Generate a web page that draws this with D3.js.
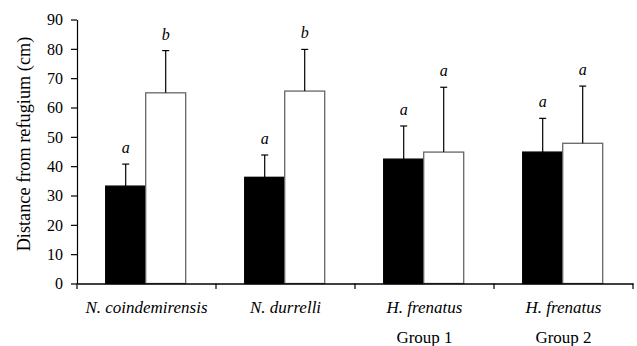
<!DOCTYPE html>
<html><head><meta charset="utf-8">
<script src="https://cdn.jsdelivr.net/npm/d3@7"></script>
<style>body{margin:0;background:#fff}svg{display:block}text{font-family:"Liberation Serif","Times New Roman",serif;fill:#000}</style>
</head><body>
<script>
const categories = ["N. coindemirensis", "N. durrelli", "H. frenatus", "H. frenatus"];
const subLabels = ["", "", "Group 1", "Group 2"];
const series = ["black", "white"];
const blackMeans = [33.2, 36.2, 42.4, 44.8];
const blackErr = [40.7, 43.8, 53.7, 56.3];
const whiteMeans = [65.0, 65.6, 44.8, 47.8];
const whiteErr = [79.4, 79.8, 66.9, 67.3];
const blackLetters = ["a", "a", "a", "a"];
const whiteLetters = ["b", "b", "a", "a"];
const yTicks = [0, 10, 20, 30, 40, 50, 60, 70, 80, 90];
const yTitle = "Distance from refugium (cm)";

const W = 637, H = 346;
const svg = d3.select("body").append("svg").attr("width", W).attr("height", H);
const keys = categories.map((c, i) => i);
const x0 = d3.scaleBand().domain(keys).range([77, 633]).padding(0);
const y = d3.scaleLinear().domain([0, 90]).range([283.5, 19.5]);
const bw = x0.bandwidth();
const x1 = d3.scaleBand().domain(series).range([bw / 2 - 40.8, bw / 2 + 39.2]).padding(0);

const data = [];
keys.forEach(i => {
  data.push({i, s: "black", v: blackMeans[i], e: blackErr[i], l: blackLetters[i]});
  data.push({i, s: "white", v: whiteMeans[i], e: whiteErr[i], l: whiteLetters[i]});
});

const g = svg.append("g");
// bars
g.selectAll("rect.bar").data(data).enter().append("rect")
  .attr("x", d => x0(d.i) + x1(d.s))
  .attr("y", d => y(d.v))
  .attr("width", x1.bandwidth())
  .attr("height", d => y(0) - y(d.v))
  .attr("fill", d => d.s === "black" ? "#000" : "#fff")
  .attr("stroke", d => d.s === "black" ? "#000" : "#666")
  .attr("stroke-width", 1.3);
// error bars
const cx = d => x0(d.i) + x1(d.s) + x1.bandwidth() / 2;
g.selectAll("line.err").data(data).enter().append("line")
  .attr("x1", cx).attr("x2", cx)
  .attr("y1", d => y(d.v)).attr("y2", d => y(d.e))
  .attr("stroke", "#000").attr("stroke-width", 1.2);
g.selectAll("line.cap").data(data).enter().append("line")
  .attr("x1", d => cx(d) - 3.5).attr("x2", d => cx(d) + 3.5)
  .attr("y1", d => y(d.e)).attr("y2", d => y(d.e))
  .attr("stroke", "#000").attr("stroke-width", 1.2);
// letters
g.selectAll("text.let").data(data).enter().append("text")
  .attr("x", cx).attr("y", d => y(d.e) - 11)
  .attr("text-anchor", "middle")
  .style("font-size", "16px").style("font-style", "italic")
  .text(d => d.l);

// y axis
const yAxis = d3.axisLeft(y).tickValues(yTicks).tickSize(6).tickSizeOuter(0).tickPadding(8);
const ya = svg.append("g").attr("transform", "translate(77,0)").call(yAxis);
ya.select(".domain").attr("stroke", "#000").attr("stroke-width", 1.2);
ya.selectAll(".tick line").attr("stroke", "#000").attr("stroke-width", 1.2);
ya.selectAll(".tick text").style("font-size", "16px").style("font-family", "Liberation Serif").attr("dy", "0.34em");

// x axis
const xa = svg.append("g").attr("transform", `translate(0,${y(0)})`)
  .call(d3.axisBottom(x0).tickSize(0).tickSizeOuter(0).tickFormat(() => ""));
xa.select(".domain").attr("stroke", "#000").attr("stroke-width", 1.4);
const bounds = keys.map(k => x0(k)).concat([x0.range()[1]]);
svg.selectAll("line.xt").data(bounds).enter().append("line")
  .attr("x1", d => d).attr("x2", d => d)
  .attr("y1", y(0)).attr("y2", y(0) + 5.5)
  .attr("stroke", "#000").attr("stroke-width", 1.2);
svg.selectAll("text.xl").data(keys).enter().append("text")
  .attr("x", k => x0(k) + bw / 2).attr("y", 313)
  .attr("text-anchor", "middle").style("font-size", "17px").style("font-style", "italic")
  .text(k => categories[k]);
svg.selectAll("text.xs").data(keys).enter().append("text")
  .attr("x", k => x0(k) + bw / 2).attr("y", 343)
  .attr("text-anchor", "middle").style("font-size", "17px")
  .text(k => subLabels[k]);

// y title
svg.append("text")
  .attr("transform", "translate(29.5,144) rotate(-90)")
  .attr("text-anchor", "middle").style("font-size", "18.3px")
  .text(yTitle);
</script>
</body></html>
